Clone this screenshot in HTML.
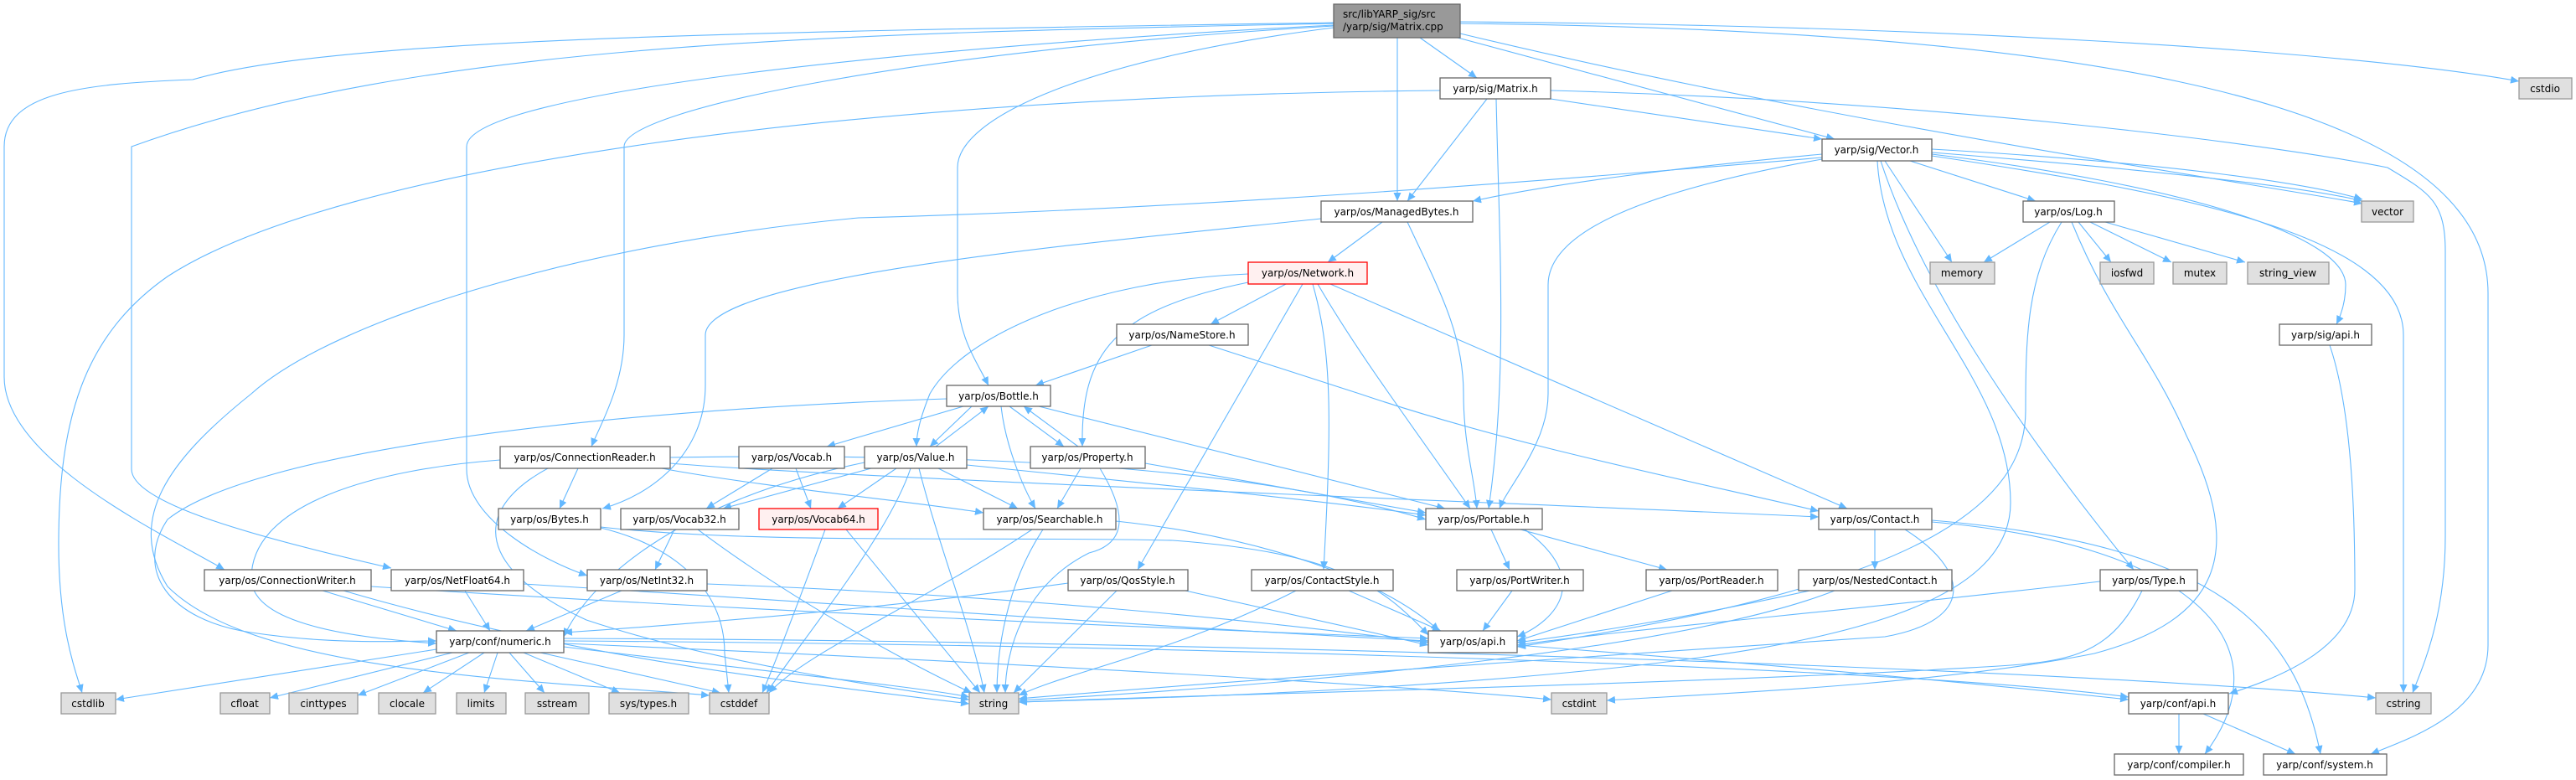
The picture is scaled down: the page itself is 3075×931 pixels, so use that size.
<!DOCTYPE html>
<html><head><meta charset="utf-8">
<style>
html,body{margin:0;padding:0;background:#fff;}
svg{display:block;}
text{font-family:"DejaVu Sans","Liberation Sans",sans-serif;font-size:12px;fill:#000;}
.e{fill:none;stroke:#63b8ff;stroke-width:1.1;marker-end:url(#ah);}
.n{fill:#fff;stroke:#666;stroke-width:1.3;}
.g{fill:#e0e0e0;stroke:#999;stroke-width:1.3;}
.r{fill:#fff0f0;stroke:#ff0000;stroke-width:1.3;}
.m{fill:#999;stroke:#666;stroke-width:1.3;}
</style></head><body>
<svg width="3075" height="931" viewBox="0 0 3075 931" xmlns="http://www.w3.org/2000/svg">
<defs><marker id="ah" markerUnits="userSpaceOnUse" markerWidth="11" markerHeight="9" refX="10" refY="4.5" orient="auto"><path d="M0,0 L10,4.5 L0,9 z" fill="#63b8ff"/></marker></defs>
<g>
<path class="e" d="M1743,26 C2300,30 2800,60 3007,97"/>
<path class="e" d="M1743,28 C2400,35 2970,100 2970,350 L2970,770 C2970,850 2880,880 2830,900"/>
<path class="e" d="M1743,40 C2200,150 2700,220 2820,243"/>
<path class="e" d="M1740,45 L2190,166"/>
<path class="e" d="M1695,45 L1763,93"/>
<path class="e" d="M1668,45 L1668,240"/>
<path class="e" d="M1592,33 C1300,70 1143,140 1143,200 L1143,350 C1143,400 1165,430 1180,460"/>
<path class="e" d="M1592,31 C1100,60 745,130 745,175 L745,400 C745,460 715,510 706,533"/>
<path class="e" d="M1592,30 C1100,55 557,110 557,175 L557,560 C557,620 650,670 701,687"/>
<path class="e" d="M1592,28 C1000,40 500,50 157,175 L157,560 C157,600 300,640 467,678"/>
<path class="e" d="M1592,27 C900,38 400,45 230,95 C100,100 5,110 5,175 L5,450 C5,550 200,640 268,680"/>
<path class="e" d="M1719,108 C1000,115 400,200 200,330 C100,400 70,500 70,650 C70,750 90,800 98,827"/>
<path class="e" d="M1775,118 L1680,240"/>
<path class="e" d="M1786,118 C1790,300 1800,450 1777,607"/>
<path class="e" d="M1851,118 L2175,166"/>
<path class="e" d="M1851,108 C2300,120 2700,170 2850,200 C2900,230 2919,240 2919,300 L2919,640 C2919,740 2890,800 2880,827"/>
<path class="e" d="M2306,182 C2600,205 2760,225 2820,240"/>
<path class="e" d="M2306,178 C2600,195 2760,220 2820,238"/>
<path class="e" d="M2175,184 C2000,200 1850,220 1758,240"/>
<path class="e" d="M2175,190 C1950,230 1848,280 1848,340 L1848,470 C1848,530 1800,580 1790,607"/>
<path class="e" d="M2250,192 L2330,313"/>
<path class="e" d="M2280,192 L2430,240"/>
<path class="e" d="M2306,184 C2600,220 2800,280 2800,340 C2800,360 2795,375 2789,387"/>
<path class="e" d="M2306,186 C2600,230 2869,280 2869,400 L2869,827"/>
<path class="e" d="M2245,192 C2290,330 2400,500 2547,680"/>
<path class="e" d="M2241,192 C2250,350 2400,450 2400,600 C2400,720 2200,770 1900,800 C1600,830 1300,835 1216,838"/>
<path class="e" d="M2175,188 C1800,220 1400,250 1025,260 C700,290 400,380 300,470 C200,550 150,620 200,700 C300,800 600,810 847,830"/>
<path class="e" d="M1650,265 L1585,313"/>
<path class="e" d="M1680,265 C1720,350 1747,400 1747,470 C1747,530 1760,570 1763,607"/>
<path class="e" d="M1577,261 C1300,290 842,330 842,400 L842,460 C842,540 780,590 719,607"/>
<path class="e" d="M1535,339 L1445,387"/>
<path class="e" d="M1490,327 C1300,335 1150,400 1110,470 C1100,495 1094,515 1094,533"/>
<path class="e" d="M1490,337 C1330,370 1290,420 1292,533"/>
<path class="e" d="M1555,339 L1358,680"/>
<path class="e" d="M1567,339 C1590,420 1590,500 1580,680"/>
<path class="e" d="M1573,339 C1620,420 1680,500 1755,607"/>
<path class="e" d="M1588,339 L2205,607"/>
<path class="e" d="M1375,412 L1236,460"/>
<path class="e" d="M1443,412 L1623,470 C1800,530 2000,570 2171,610"/>
<path class="e" d="M1160,485 L1110,533"/>
<path class="e" d="M1117,533 L1180,485"/>
<path class="e" d="M1205,485 L1270,533"/>
<path class="e" d="M1287,533 L1222,485"/>
<path class="e" d="M1195,485 C1200,530 1220,580 1236,607"/>
<path class="e" d="M1240,485 L1725,607"/>
<path class="e" d="M1150,485 L987,533"/>
<path class="e" d="M1130,476 C700,490 300,540 200,620 C160,680 200,740 300,755 C400,770 480,765 521,765"/>
<path class="e" d="M1040,559 L863,607"/>
<path class="e" d="M1070,559 L1000,607"/>
<path class="e" d="M950,559 L968,607"/>
<path class="e" d="M922,559 L843,607"/>
<path class="e" d="M1120,559 L1215,607"/>
<path class="e" d="M1097,559 C1120,650 1160,750 1175,827"/>
<path class="e" d="M1087,559 C1060,640 960,760 915,827"/>
<path class="e" d="M1154,555 C1400,580 1600,600 1702,615"/>
<path class="e" d="M1032,552 C800,600 700,700 673,760"/>
<path class="e" d="M800,553 C1000,570 1800,600 2171,617"/>
<path class="e" d="M690,559 L668,607"/>
<path class="e" d="M790,559 C900,580 1100,600 1174,612"/>
<path class="e" d="M654,559 C560,610 570,680 700,740 C850,790 1050,820 1157,835"/>
<path class="e" d="M597,549 C450,560 300,600 300,690 C300,740 400,760 521,768"/>
<path class="e" d="M800,546 C1200,540 1500,560 1702,620"/>
<path class="e" d="M717,630 C800,650 865,700 865,780 L870,827"/>
<path class="e" d="M717,629 C900,650 1200,640 1400,645 C1600,660 1650,700 1705,758"/>
<path class="e" d="M805,632 L782,680"/>
<path class="e" d="M833,632 C950,720 1100,800 1160,827"/>
<path class="e" d="M985,632 C960,700 930,780 910,827"/>
<path class="e" d="M1010,632 L1170,827"/>
<path class="e" d="M1332,622 C1500,640 1650,690 1718,753"/>
<path class="e" d="M1245,632 C1200,700 1190,780 1190,827"/>
<path class="e" d="M1232,632 C1100,720 960,780 918,827"/>
<path class="e" d="M1290,559 L1262,607"/>
<path class="e" d="M1367,553 L1702,612"/>
<path class="e" d="M1313,559 C1350,620 1340,650 1300,660 C1220,700 1200,780 1200,827"/>
<path class="e" d="M1780,632 L1802,680"/>
<path class="e" d="M1815,632 L1990,680"/>
<path class="e" d="M1820,632 C1900,690 1860,740 1811,760"/>
<path class="e" d="M2238,632 L2238,680"/>
<path class="e" d="M2274,632 C2350,680 2360,740 2250,760 C2100,770 1500,810 1216,834"/>
<path class="e" d="M2306,621 C2650,650 2740,750 2770,900"/>
<path class="e" d="M2306,623 C2620,650 2730,770 2632,900"/>
<path class="e" d="M385,705 L545,753"/>
<path class="e" d="M443,700 C900,730 1400,750 1705,762"/>
<path class="e" d="M410,705 C700,790 1000,820 1157,840"/>
<path class="e" d="M555,705 L585,753"/>
<path class="e" d="M625,697 C1000,720 1400,750 1705,765"/>
<path class="e" d="M742,705 L628,753"/>
<path class="e" d="M844,697 C1200,710 1500,740 1705,767"/>
<path class="e" d="M1275,696 C1100,720 900,740 673,755"/>
<path class="e" d="M1415,705 L1705,770"/>
<path class="e" d="M1333,705 L1210,827"/>
<path class="e" d="M1610,705 L1720,753"/>
<path class="e" d="M1547,705 C1400,780 1280,800 1216,830"/>
<path class="e" d="M1805,705 L1770,753"/>
<path class="e" d="M1996,705 L1811,765"/>
<path class="e" d="M2160,705 C2000,740 1900,755 1811,767"/>
<path class="e" d="M2190,705 C2000,780 1500,820 1216,836"/>
<path class="e" d="M2507,694 C2200,730 1950,750 1811,770"/>
<path class="e" d="M2557,705 C2510,800 2450,790 2300,800 C1900,820 1400,830 1216,838"/>
<path class="e" d="M2447,265 L2368,313"/>
<path class="e" d="M2481,265 L2520,313"/>
<path class="e" d="M2495,265 L2592,313"/>
<path class="e" d="M2513,265 L2680,313"/>
<path class="e" d="M2461,265 C2420,330 2418,400 2418,490 C2418,600 2300,700 1811,772"/>
<path class="e" d="M2473,265 C2520,380 2566,420 2610,520 C2680,660 2650,740 2500,780 C2300,820 2000,830 1918,836"/>
<path class="e" d="M2781,412 C2811,500 2811,650 2811,703 C2811,780 2700,815 2661,828"/>
<path class="e" d="M521,775 L138,835"/>
<path class="e" d="M540,779 L322,833"/>
<path class="e" d="M560,779 L427,830"/>
<path class="e" d="M578,779 L505,827"/>
<path class="e" d="M594,779 L578,827"/>
<path class="e" d="M608,779 L650,827"/>
<path class="e" d="M625,779 L740,827"/>
<path class="e" d="M645,779 L860,827"/>
<path class="e" d="M673,772 C900,800 1100,820 1157,832"/>
<path class="e" d="M673,768 C1200,790 1700,820 1852,835"/>
<path class="e" d="M673,765 C1500,770 2300,800 2541,832"/>
<path class="e" d="M673,762 C1500,765 2500,800 2836,833"/>
<path class="e" d="M1811,770 C2200,800 2400,820 2541,835"/>
<path class="e" d="M2601,852 L2601,900"/>
<path class="e" d="M2630,852 L2740,900"/>
</g>
<g>
<rect class="m" x="1592" y="5" width="151" height="40"/>
<text x="1603" y="21">src/libYARP_sig/src</text>
<text x="1603" y="36">/yarp/sig/Matrix.cpp</text>

<rect class="n" x="1719" y="93" width="132" height="25"/><text x="1785" y="110" text-anchor="middle">yarp/sig/Matrix.h</text>
<rect class="g" x="3007" y="93" width="63" height="25"/><text x="3038" y="110" text-anchor="middle">cstdio</text>
<rect class="n" x="2175" y="166" width="131" height="26"/><text x="2240" y="183" text-anchor="middle">yarp/sig/Vector.h</text>
<rect class="n" x="1577" y="240" width="181" height="25"/><text x="1667" y="257" text-anchor="middle">yarp/os/ManagedBytes.h</text>
<rect class="n" x="2415" y="240" width="109" height="25"/><text x="2469" y="257" text-anchor="middle">yarp/os/Log.h</text>
<rect class="g" x="2819" y="240" width="62" height="25"/><text x="2850" y="257" text-anchor="middle">vector</text>
<rect class="r" x="1490" y="313" width="142" height="26"/><text x="1561" y="330" text-anchor="middle">yarp/os/Network.h</text>
<rect class="g" x="2304" y="313" width="77" height="26"/><text x="2342" y="330" text-anchor="middle">memory</text>
<rect class="g" x="2507" y="313" width="64" height="26"/><text x="2539" y="330" text-anchor="middle">iosfwd</text>
<rect class="g" x="2594" y="313" width="64" height="26"/><text x="2626" y="330" text-anchor="middle">mutex</text>
<rect class="g" x="2683" y="313" width="97" height="26"/><text x="2731" y="330" text-anchor="middle">string_view</text>
<rect class="n" x="1333" y="387" width="157" height="25"/><text x="1411" y="404" text-anchor="middle">yarp/os/NameStore.h</text>
<rect class="n" x="2721" y="387" width="110" height="25"/><text x="2776" y="404" text-anchor="middle">yarp/sig/api.h</text>
<rect class="n" x="1130" y="460" width="124" height="25"/><text x="1192" y="477" text-anchor="middle">yarp/os/Bottle.h</text>

<rect class="n" x="597" y="533" width="203" height="26"/><text x="698" y="550" text-anchor="middle">yarp/os/ConnectionReader.h</text>
<rect class="n" x="882" y="533" width="126" height="26"/><text x="945" y="550" text-anchor="middle">yarp/os/Vocab.h</text>
<rect class="n" x="1032" y="533" width="122" height="26"/><text x="1093" y="550" text-anchor="middle">yarp/os/Value.h</text>
<rect class="n" x="1230" y="533" width="137" height="26"/><text x="1298" y="550" text-anchor="middle">yarp/os/Property.h</text>

<rect class="n" x="595" y="607" width="122" height="25"/><text x="656" y="624" text-anchor="middle">yarp/os/Bytes.h</text>
<rect class="n" x="741" y="607" width="141" height="25"/><text x="811" y="624" text-anchor="middle">yarp/os/Vocab32.h</text>
<rect class="r" x="906" y="607" width="142" height="25"/><text x="977" y="624" text-anchor="middle">yarp/os/Vocab64.h</text>
<rect class="n" x="1174" y="607" width="158" height="25"/><text x="1253" y="624" text-anchor="middle">yarp/os/Searchable.h</text>
<rect class="n" x="1702" y="607" width="139" height="25"/><text x="1771" y="624" text-anchor="middle">yarp/os/Portable.h</text>
<rect class="n" x="2171" y="607" width="135" height="25"/><text x="2238" y="624" text-anchor="middle">yarp/os/Contact.h</text>

<rect class="n" x="244" y="680" width="199" height="25"/><text x="343" y="697" text-anchor="middle">yarp/os/ConnectionWriter.h</text>
<rect class="n" x="467" y="680" width="158" height="25"/><text x="546" y="697" text-anchor="middle">yarp/os/NetFloat64.h</text>
<rect class="n" x="701" y="680" width="143" height="25"/><text x="772" y="697" text-anchor="middle">yarp/os/NetInt32.h</text>
<rect class="n" x="1275" y="680" width="143" height="25"/><text x="1346" y="697" text-anchor="middle">yarp/os/QosStyle.h</text>
<rect class="n" x="1494" y="680" width="169" height="25"/><text x="1578" y="697" text-anchor="middle">yarp/os/ContactStyle.h</text>
<rect class="n" x="1739" y="680" width="151" height="25"/><text x="1814" y="697" text-anchor="middle">yarp/os/PortWriter.h</text>
<rect class="n" x="1965" y="680" width="157" height="25"/><text x="2043" y="697" text-anchor="middle">yarp/os/PortReader.h</text>
<rect class="n" x="2147" y="680" width="183" height="25"/><text x="2238" y="697" text-anchor="middle">yarp/os/NestedContact.h</text>
<rect class="n" x="2507" y="680" width="116" height="25"/><text x="2565" y="697" text-anchor="middle">yarp/os/Type.h</text>

<rect class="n" x="521" y="753" width="152" height="26"/><text x="597" y="770" text-anchor="middle">yarp/conf/numeric.h</text>
<rect class="n" x="1705" y="753" width="106" height="26"/><text x="1758" y="770" text-anchor="middle">yarp/os/api.h</text>

<rect class="g" x="73" y="827" width="65" height="25"/><text x="105" y="844" text-anchor="middle">cstdlib</text>
<rect class="g" x="263" y="827" width="59" height="25"/><text x="292" y="844" text-anchor="middle">cfloat</text>
<rect class="g" x="345" y="827" width="82" height="25"/><text x="386" y="844" text-anchor="middle">cinttypes</text>
<rect class="g" x="452" y="827" width="68" height="25"/><text x="486" y="844" text-anchor="middle">clocale</text>
<rect class="g" x="545" y="827" width="59" height="25"/><text x="574" y="844" text-anchor="middle">limits</text>
<rect class="g" x="627" y="827" width="76" height="25"/><text x="665" y="844" text-anchor="middle">sstream</text>
<rect class="g" x="727" y="827" width="95" height="25"/><text x="774" y="844" text-anchor="middle">sys/types.h</text>
<rect class="g" x="847" y="827" width="71" height="25"/><text x="882" y="844" text-anchor="middle">cstddef</text>
<rect class="g" x="1157" y="827" width="59" height="25"/><text x="1186" y="844" text-anchor="middle">string</text>
<rect class="g" x="1852" y="827" width="66" height="25"/><text x="1885" y="844" text-anchor="middle">cstdint</text>
<rect class="n" x="2541" y="827" width="119" height="25"/><text x="2600" y="844" text-anchor="middle">yarp/conf/api.h</text>
<rect class="g" x="2836" y="827" width="66" height="25"/><text x="2869" y="844" text-anchor="middle">cstring</text>

<rect class="n" x="2524" y="900" width="154" height="25"/><text x="2601" y="917" text-anchor="middle">yarp/conf/compiler.h</text>
<rect class="n" x="2702" y="900" width="147" height="25"/><text x="2775" y="917" text-anchor="middle">yarp/conf/system.h</text>
</g>
</svg>
</body></html>
